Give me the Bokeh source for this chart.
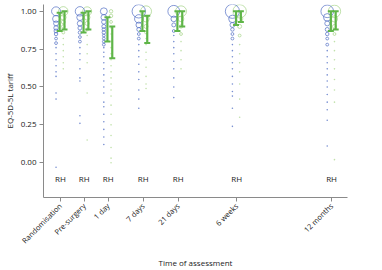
import math
from bokeh.plotting import figure
from bokeh.models import Range1d, FixedTicker, ColumnDataSource
from bokeh.core.properties import value
from bokeh.embed import file_html
from bokeh.resources import INLINE

# Assessment time points
times = ["Randomisation", "Pre-surgery", "1 day", "7 days", "21 days", "6 weeks", "12 months"]

# EQ-5D-5L tariff values observed per time point, with the number of patients at each value
r_values = [
    [1.0, 0.95, 0.92, 0.89, 0.87, 0.85, 0.82, 0.79, 0.76, 0.72, 0.68, 0.64, 0.60, 0.57, 0.46, 0.42, -0.03],
    [1.0, 0.96, 0.92, 0.89, 0.86, 0.83, 0.80, 0.76, 0.72, 0.68, 0.62, 0.56, 0.54, 0.31, 0.26],
    [1.0, 0.96, 0.93, 0.90, 0.88, 0.86, 0.84, 0.82, 0.80, 0.78, 0.76, 0.73, 0.70, 0.66, 0.62, 0.58,
     0.54, 0.50, 0.46, 0.40, 0.37, 0.32, 0.27, 0.22, 0.17, 0.12],
    [1.0, 0.95, 0.91, 0.88, 0.85, 0.82, 0.78, 0.74, 0.70, 0.65, 0.60, 0.55, 0.48, 0.42, 0.36],
    [1.0, 0.95, 0.91, 0.87, 0.84, 0.80, 0.76, 0.72, 0.67, 0.62, 0.56, 0.50, 0.43],
    [1.0, 0.95, 0.91, 0.88, 0.85, 0.82, 0.78, 0.74, 0.70, 0.66, 0.62, 0.57, 0.52, 0.47, 0.44, 0.36, 0.24],
    [1.0, 0.96, 0.92, 0.88, 0.85, 0.82, 0.78, 0.74, 0.70, 0.66, 0.62, 0.58, 0.54, 0.50, 0.45, 0.40,
     0.35, 0.28, 0.11],
]
r_counts = [
    [20, 12, 6, 5, 4, 3, 2, 2, 1, 1, 1, 1, 1, 1, 1, 1, 1],
    [22, 10, 7, 4, 3, 2, 2, 1, 1, 1, 1, 1, 1, 1, 1],
    [12, 8, 5, 4, 3, 3, 2, 2, 2, 2, 1, 1, 1, 1, 1, 1, 1, 1, 1, 1, 1, 1, 1, 1, 1, 1],
    [45, 18, 8, 4, 2, 2, 1, 1, 1, 1, 1, 1, 1, 1, 1],
    [35, 8, 4, 2, 1, 1, 1, 1, 1, 1, 1, 1, 1],
    [50, 14, 6, 3, 2, 2, 1, 1, 1, 1, 1, 1, 1, 1, 1, 1, 1],
    [40, 14, 6, 4, 3, 2, 2, 1, 1, 1, 1, 1, 1, 1, 1, 1, 1, 1, 1],
]
h_values = [
    [1.0, 0.96, 0.93, 0.90, 0.86, 0.82, 0.78, 0.74, 0.70, 0.66, 0.62],
    [1.0, 0.96, 0.92, 0.88, 0.84, 0.78, 0.72, 0.66, 0.46, 0.15],
    [1.0, 0.97, 0.93, 0.89, 0.85, 0.80, 0.76, 0.72, 0.68, 0.64, 0.60, 0.56, 0.52, 0.48, 0.44,
     0.38, 0.32, 0.25, 0.18, 0.10, 0.03, 0.0],
    [1.0, 0.95, 0.90, 0.86, 0.82, 0.78, 0.73, 0.68, 0.63, 0.57, 0.52, 0.49],
    [1.0, 0.95, 0.90, 0.85, 0.80, 0.74, 0.68, 0.62],
    [1.0, 0.95, 0.90, 0.84, 0.78, 0.72, 0.66, 0.60, 0.52, 0.42, 0.30],
    [1.0, 0.95, 0.90, 0.85, 0.80, 0.74, 0.68, 0.62, 0.55, 0.48, 0.40, 0.02],
]
h_counts = [
    [22, 8, 4, 3, 2, 1, 1, 1, 1, 1, 1],
    [20, 8, 4, 2, 1, 1, 1, 1, 1, 1],
    [3, 3, 2, 1, 1, 1, 1, 1, 1, 1, 1, 1, 1, 1, 1, 1, 1, 1, 1, 1, 1, 1],
    [30, 10, 4, 2, 1, 1, 1, 1, 1, 1, 1, 1],
    [30, 8, 3, 2, 1, 1, 1, 1],
    [45, 10, 4, 2, 1, 1, 1, 1, 1, 1, 1],
    [38, 10, 4, 2, 1, 1, 1, 1, 1, 1, 1, 1],
]

# Interval bars per group
r_low = [0.87, 0.86, 0.80, 0.87, 0.87, 0.91, 0.87]
r_high = [0.99, 0.99, 0.96, 1.0, 1.0, 1.0, 1.0]
h_low = [0.88, 0.88, 0.69, 0.79, 0.90, 0.93, 0.88]
h_high = [1.0, 1.0, 0.90, 0.97, 1.0, 1.0, 1.0]

group_labels = ["RH"] * len(times)

# Horizontal placement of each time point on the axis
slot_x = [0, 0.99, 1.98, 3.43, 4.88, 7.31, 11.24]

FONT = "Open Sans"
BLUE = "#4a68c2"
GREEN_PT = "#a6d488"
GREEN_BAR = "#5fb548"

p = figure(width=382, height=270, output_backend="svg", toolbar_location=None,
           x_range=Range1d(-0.70, 11.9), y_range=Range1d(-0.23, 1.045),
           min_border_left=42, min_border_right=35, min_border_top=4, min_border_bottom=71)
p.outline_line_color = None
p.xgrid.visible = False
p.ygrid.visible = False
p.background_fill_color = "white"
p.border_fill_color = "white"


def bubbles(vals, counts, offset, single):
    xs, ys, sz = [], [], []
    for i, (vv, cc) in enumerate(zip(vals, counts)):
        for v, c in zip(vv, cc):
            if (c == 1) != single:
                continue
            xs.append(slot_x[i] + offset)
            ys.append(v)
            sz.append(2.0 * math.sqrt(c))
    return ColumnDataSource(dict(x=xs, y=ys, s=sz))


# single observations are drawn as faint dots, repeated values as open circles
p.scatter("x", "y", size=1.6, source=bubbles(h_values, h_counts, 0.12, True),
          fill_color=GREEN_PT, line_color=None, fill_alpha=0.7)
p.scatter("x", "y", size=1.6, source=bubbles(r_values, r_counts, -0.18, True),
          fill_color=BLUE, line_color=None, fill_alpha=0.75)
p.scatter("x", "y", size="s", source=bubbles(h_values, h_counts, 0.12, False),
          fill_color=None, line_color=GREEN_PT, line_width=0.9, line_alpha=0.8)
p.scatter("x", "y", size="s", source=bubbles(r_values, r_counts, -0.18, False),
          fill_color=None, line_color=BLUE, line_width=0.9, line_alpha=0.75)

# Interval bars with caps
for lows, highs, off in ((r_low, r_high, -0.03), (h_low, h_high, 0.17)):
    xs = [x + off for x in slot_x]
    p.segment(x0=xs, y0=lows, x1=xs, y1=highs, line_color=GREEN_BAR, line_width=2.2)
    p.scatter(x=xs, y=lows, marker="dash", size=6, line_color=GREEN_BAR, line_width=2)
    p.scatter(x=xs, y=highs, marker="dash", size=6, line_color=GREEN_BAR, line_width=2)

# Group letters under each time point
p.text(x=slot_x, y=[-0.105] * len(times), text=group_labels,
       text_font=value(FONT), text_font_size="8px", text_color="#1a1a1a",
       text_align="center", text_baseline="middle")

for ax in (p.xaxis[0], p.yaxis[0]):
    ax.axis_line_color = "#8a8a8a"
    ax.major_tick_line_color = "#8a8a8a"
    ax.minor_tick_line_color = None
    ax.major_tick_out = 4
    ax.major_tick_in = 0
    ax.major_label_text_font = FONT
    ax.major_label_text_font_size = "7.5px"
    ax.major_label_text_color = "#1a1a1a"
    ax.major_label_standoff = 3
    ax.axis_label_text_font = FONT
    ax.axis_label_text_font_size = "8px"
    ax.axis_label_text_font_style = "normal"
    ax.axis_label_text_color = "#1a1a1a"

p.yaxis.major_label_text_font_size = "8px"

p.xaxis.ticker = FixedTicker(ticks=slot_x)
p.xaxis.major_label_overrides = {x: t for x, t in zip(slot_x, times)}
p.xaxis.major_label_orientation = math.pi / 4
p.xaxis.axis_label = "Time of assessment"
p.xaxis.axis_label_standoff = 5

p.yaxis.ticker = FixedTicker(ticks=[0, 0.25, 0.5, 0.75, 1.0])
p.yaxis.major_label_overrides = {0: "0.00", 0.25: "0.25", 0.5: "0.50", 0.75: "0.75", 1.0: "1.00"}
p.yaxis.axis_label = "EQ-5D-5L tariff"
p.yaxis.axis_label_standoff = 3

open("out.html", "w").write(file_html(p, INLINE))
